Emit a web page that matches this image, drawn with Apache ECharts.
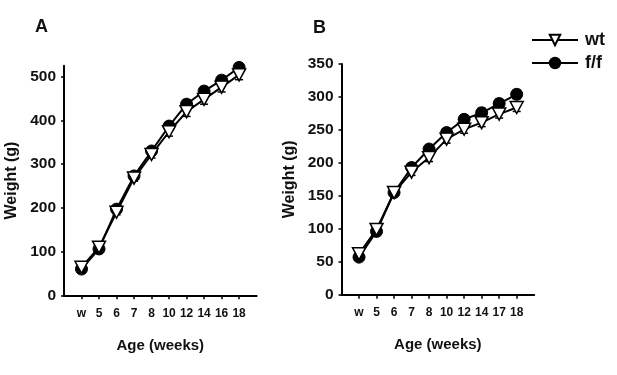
<!DOCTYPE html>
<html>
<head>
<meta charset="utf-8">
<script src="https://cdn.jsdelivr.net/npm/echarts@6/dist/echarts.min.js"></script>
<style>
html, body { margin: 0; padding: 0; background: #fff; }
#chart { width: 617px; height: 375px; }
</style>
</head>
<body>
<div id="chart"></div>
<script>
// 体重数据 (g)
var categoriesA = ['w', '5', '6', '7', '8', '10', '12', '14', '16', '18'];
var categoriesB = ['w', '5', '6', '7', '8', '10', '12', '14', '17', '18'];

var wtA = [64, 110, 190, 268, 322, 374, 420, 448, 476, 504];
var ffA = [60, 106, 197, 273, 330, 387, 437, 467, 492, 521];
var wtErrA = [4, 5, 6, 7, 8, 10, 11, 11, 11, 11];
var ffErrA = [4, 5, 6, 7, 8, 8, 10, 10, 10, 9];

var wtB = [62, 99, 155, 186, 208, 236, 251, 261, 274, 284];
var ffB = [57, 96, 155, 193, 221, 246, 266, 276, 290, 304];
var wtErrB = [3, 4, 4, 5, 6, 6, 6, 6, 6, 6];
var ffErrB = [3, 4, 4, 5, 6, 6, 7, 7, 7, 7];

var yTicksA = [0, 100, 200, 300, 400, 500];
var yTicksB = [0, 50, 100, 150, 200, 250, 300, 350];

var FONT = 'Liberation Sans';

function toPoints(values) {
	var arr = [];
	for (var i = 0; i < values.length; i++) {
		arr.push([i, values[i]]);
	}
	return arr;
}

function toErr(values, errs) {
	var arr = [];
	for (var i = 0; i < values.length; i++) {
		arr.push([i, values[i], errs[i]]);
	}
	return arr;
}

function renderErr(params, api) {
	var x = api.value(0), v = api.value(1), e = api.value(2);
	var top = api.coord([x, v + e]);
	var bot = api.coord([x, v - e]);
	var hw = 4;
	var st = { stroke: '#000', lineWidth: 1.5 };
	return {
		type: 'group',
		children: [
			{ type: 'line', shape: { x1: top[0], y1: top[1], x2: bot[0], y2: bot[1] }, style: st },
			{ type: 'line', shape: { x1: top[0] - hw, y1: top[1], x2: top[0] + hw, y2: top[1] }, style: st },
			{ type: 'line', shape: { x1: bot[0] - hw, y1: bot[1], x2: bot[0] + hw, y2: bot[1] }, style: st }
		]
	};
}

function makeX(idx, cats) {
	var pos = [];
	for (var i = 0; i < cats.length; i++) pos.push(i);
	return {
		type: 'value', gridIndex: idx, min: -1, max: cats.length, interval: 1,
		name: 'Age (weeks)', nameLocation: 'middle', nameGap: 43,
		nameTextStyle: { fontFamily: FONT, fontWeight: 'bold', fontSize: 15, color: '#111' },
		axisLine: { onZero: false, lineStyle: { color: '#000', width: 2 } },
		axisTick: { show: true, length: 4, customValues: pos, lineStyle: { color: '#000', width: 1.5 } },
		axisLabel: {
			customValues: pos, margin: 12,
			fontFamily: FONT, fontWeight: 'bold', fontSize: 12, color: '#111',
			formatter: function (v) { return cats[Math.round(v)]; }
		},
		splitLine: { show: false }
	};
}

function makeY(idx, max, interval, ticks) {
	return {
		type: 'value', gridIndex: idx, min: 0, max: max, interval: interval,
		name: 'Weight (g)', nameLocation: 'middle', nameGap: 44,
		nameTextStyle: { fontFamily: FONT, fontWeight: 'bold', fontSize: 16, color: '#111' },
		axisLine: { show: true, onZero: false, lineStyle: { color: '#000', width: 2 } },
		axisTick: { show: true, length: 3, customValues: ticks, lineStyle: { color: '#000', width: 1.5 } },
		axisLabel: { customValues: ticks, margin: 8, fontFamily: FONT, fontWeight: 'bold', fontSize: 15.5, color: '#111' },
		splitLine: { show: false }
	};
}

function lineSeries(name, idx, values, isWt) {
	return {
		name: name, type: 'line', xAxisIndex: idx, yAxisIndex: idx,
		data: toPoints(values),
		symbol: isWt ? 'triangle' : 'circle',
		symbolRotate: isWt ? 180 : 0,
		symbolSize: isWt ? [13, 12] : 12,
		lineStyle: { color: '#000', width: 2 },
		itemStyle: isWt ? { color: '#fff', borderColor: '#000', borderWidth: 1.5 } : { color: '#000', borderColor: '#000', borderWidth: 1 },
		z: isWt ? 4 : 3,
		animation: false
	};
}

function errSeries(idx, values, errs) {
	return {
		type: 'custom', xAxisIndex: idx, yAxisIndex: idx,
		data: toErr(values, errs), renderItem: renderErr, z: 2, silent: true, animation: false
	};
}

var myChart = echarts.init(document.getElementById('chart'));
var option = {
	backgroundColor: '#fff',
	animation: false,
	title: [
		{ text: 'A', left: 30, top: 13, textStyle: { fontFamily: FONT, fontWeight: 'bold', fontSize: 18, color: '#111' } },
		{ text: 'B', left: 308, top: 14, textStyle: { fontFamily: FONT, fontWeight: 'bold', fontSize: 18, color: '#111' } }
	],
	legend: {
		data: ['wt', 'f/f'], orient: 'vertical', left: 526, top: 26,
		itemWidth: 46, itemHeight: 13, itemGap: 5,
		textStyle: { fontFamily: FONT, fontWeight: 'bold', fontSize: 18, color: '#111', padding: [0, 0, 0, 2] }
	},
	grid: [
		{ left: 64, top: 65.7, width: 192.6, height: 229.6 },
		{ left: 341.5, top: 64, width: 192.7, height: 230.7 }
	],
	xAxis: [makeX(0, categoriesA), makeX(1, categoriesB)],
	yAxis: [makeY(0, 525, 100, yTicksA), makeY(1, 350, 50, yTicksB)],
	series: [
		errSeries(0, ffA, ffErrA),
		errSeries(0, wtA, wtErrA),
		lineSeries('f/f', 0, ffA, false),
		lineSeries('wt', 0, wtA, true),
		errSeries(1, ffB, ffErrB),
		errSeries(1, wtB, wtErrB),
		lineSeries('f/f', 1, ffB, false),
		lineSeries('wt', 1, wtB, true)
	]
};
// 显示图表
myChart.setOption(option);
</script>
</body>
</html>
